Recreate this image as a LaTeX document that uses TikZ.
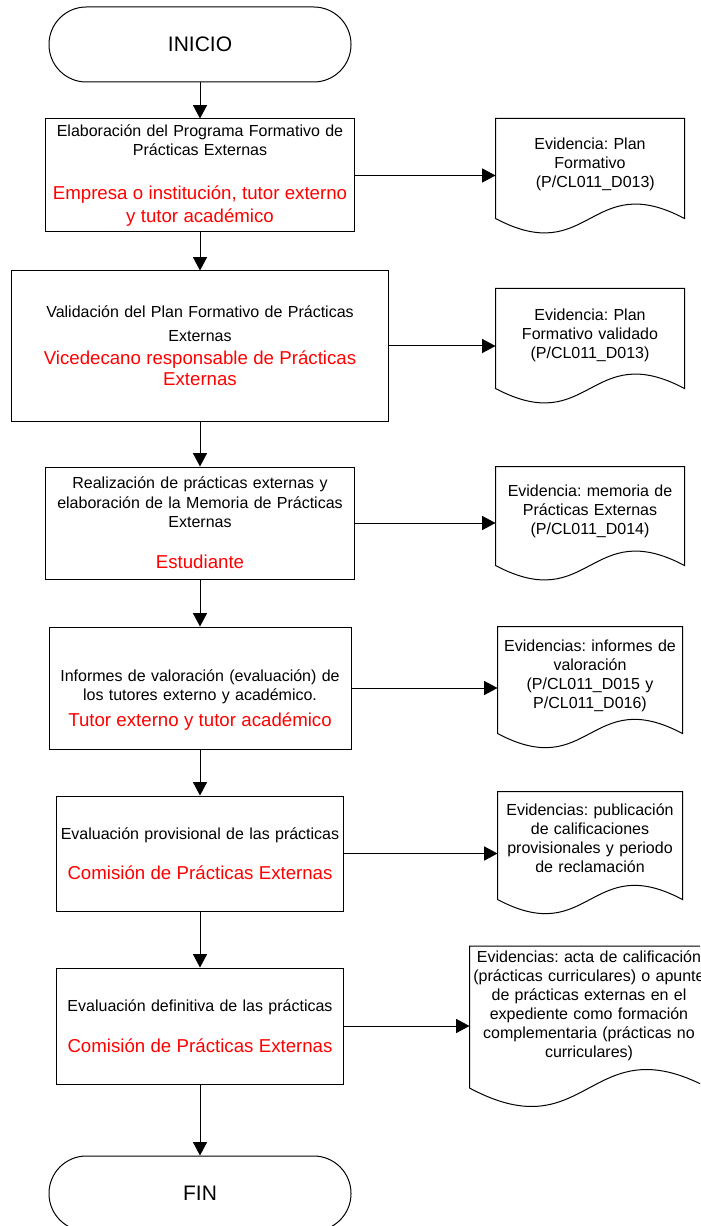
\documentclass[tikz,border=0pt]{standalone}
\usepackage{fontspec}
\setmainfont{Liberation Sans}
\frenchspacing
\usetikzlibrary{arrows.meta}
\newcommand{\rojo}[1][17.25]{\color{red}\fontsize{14}{#1}\selectfont}
\tikzset{
  terminal/.style={draw, rectangle, rounded corners=28pt, minimum width=226.5pt,
    minimum height=56.25pt, font=\fontsize{15.75}{18}\selectfont},
  stepbox/.style 2 args={draw, rectangle, text width=#1, minimum height=#2,
    inner xsep=0pt, align=center, font=\fontsize{12}{14.25}\selectfont},
  docbox/.style n args={3}{rectangle, text width=#1, minimum height=#2,
    inner xsep=2.25pt, align=center, font=\fontsize{12}{14.25}\selectfont,
    execute at end node={\par\vspace{#3}}},
  flow/.style={-{Triangle[length=10pt,width=10.5pt]}}
}
\begin{document}
\begin{tikzpicture}[x=0.75pt,y=-0.75pt,line width=0.75pt]
\useasboundingbox (0,0) rectangle (700,1226);
\clip (0,0) rectangle (700,1226);
% inicio y fin
\node[terminal] (inicio) at (200,44.5) {INICIO};
\node[terminal] (fin) at (200,1193.5) {FIN};
%
% pasos del proceso
\node[stepbox={231.75pt}{84.75pt}] (elab) at (200,175.5)
  {Elaboración del Programa Formativo de\\Prácticas Externas\par\vspace{16.4pt}
   \rojo Empresa o institución, tutor externo\\y tutor académico\par};
\node[stepbox={282.75pt}{112.5pt}] (valid) at (200,346)
  {\fontsize{12}{18}\selectfont Validación del Plan Formativo de Prácticas\\Externas\par\vspace{1.5pt}
   \rojo[15.75] Vicedecano responsable de Prácticas\\Externas\par};
\node[stepbox={231.75pt}{84pt}] (real) at (200,523)
  {\fontsize{12}{14.6}\selectfont Realización de prácticas externas y\\elaboración de la Memoria de Prácticas\\Externas\par\vspace{13.4pt}
   \rojo Estudiante\par};
\node[stepbox={226.5pt}{91.5pt}] (inf) at (200,688)
  {\par\vspace*{12pt}Informes de valoración (evaluación) de\\los tutores externo y académico.\par\vspace{2.2pt}
   \rojo Tutor externo y tutor académico\par};
\node[stepbox={215.25pt}{86.25pt}] (prov) at (200,853.5)
  {Evaluación provisional de las prácticas\par\vspace{12.7pt}
   \rojo Comisión de Prácticas Externas\par};
\node[stepbox={215.25pt}{87pt}] (defi) at (200,1026)
  {Evaluación definitiva de las prácticas\par\vspace{13.4pt}
   \rojo Comisión de Prácticas Externas\par};
%
% evidencias
\node[docbox={136.5pt}{74.25pt}{6.75pt}] (ev1) at (590,168.5)
  {Evidencia: Plan\\Formativo\\\hspace*{8pt}(P/CL011\_D013)};
\node[docbox={136.5pt}{74.25pt}{5.25pt}] (ev2) at (590,338.5)
  {Evidencia: Plan\\Formativo validado\\(P/CL011\_D013)};
\node[docbox={136.5pt}{73.5pt}{7.5pt}] (ev3) at (590,516)
  {Evidencia: memoria de\\Prácticas Externas\\(P/CL011\_D014)};
\node[docbox={133.5pt}{79.5pt}{6.75pt}] (ev4) at (590,680)
  {Evidencias: informes de\\valoración\\(P/CL011\_D015 y\\P/CL011\_D016)};
\node[docbox={133.5pt}{80.25pt}{11.25pt}] (ev5) at (590,845.5)
  {Evidencias: publicación\\de calificaciones\\provisionales y periodo\\de reclamación};
\node[docbox={174pt}{103.5pt}{16.5pt}] (ev6) at (589,1017)
  {Evidencias: acta de calificación\\(prácticas curriculares) o apunte\\de prácticas externas en el\\expediente como formación\\complementaria (prácticas no\\curriculares)};
\foreach \d/\c in {ev1/37.5pt,ev2/37.5pt,ev3/37.5pt,ev4/36.75pt,ev5/36.75pt,ev6/48pt}
  \draw (\d.south west) -- (\d.north west) -- (\d.north east) -- (\d.south east)
    .. controls ([yshift=\c]\d.south) and ([yshift=-\c]\d.south) .. (\d.south west) -- cycle;
%
% flechas
\foreach \a/\b in {inicio/elab,elab/valid,valid/real,real/inf,inf/prov,prov/defi,defi/fin}
  \draw[flow] (\a) -- (\b);
\foreach \a/\b in {elab/ev1,valid/ev2,real/ev3,inf/ev4,prov/ev5,defi/ev6}
  \draw[flow] (\a.east) -- (\a.east -| \b.west);
\end{tikzpicture}
\end{document}
